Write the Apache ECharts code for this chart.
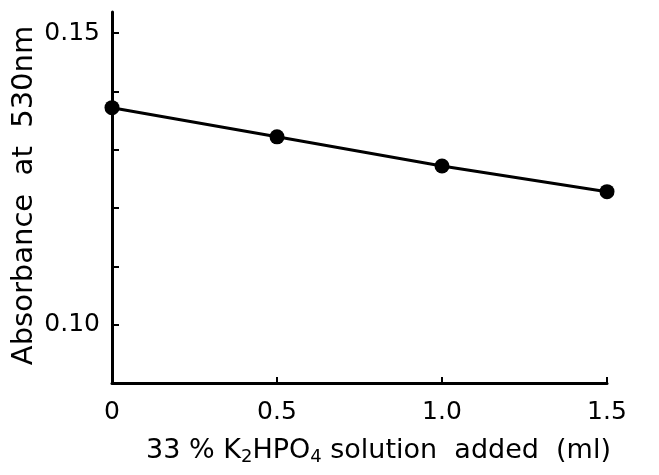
<!DOCTYPE html>
<html>
<head>
<meta charset="utf-8">
<script src="https://cdn.jsdelivr.net/npm/echarts@6/dist/echarts.min.js"></script>
<style>
  html, body { margin: 0; padding: 0; background: #fff; }
  #chart { width: 659px; height: 475px; }
</style>
</head>
<body>
<div id="chart"></div>
<script>
// K2HPO4 added (ml) vs absorbance at 530nm
const volumes = [0, 0.5, 1.0, 1.5];
const absorbance = [0.1372, 0.1322, 0.1272, 0.1228];
const xLabels = ["0", "0.5", "1.0", "1.5"];
const yTicks = [0.10, 0.11, 0.12, 0.13, 0.14, 0.15];
const yLabels = [0.10, 0.15];

const font = "DejaVu Sans";
const chart = echarts.init(document.getElementById("chart"));

chart.setOption({
  animation: false,
  backgroundColor: "#fff",
  grid: { left: 112, right: 52, top: 12, bottom: 92, outerBoundsMode: "none" },
  xAxis: {
    type: "value",
    min: 0,
    max: 1.5,
    interval: 0.5,
    name: "33 % K{sub|2}HPO{sub|4} solution  added  (ml)",
    nameLocation: "middle",
    nameGap: 52,
    nameTextStyle: {
      color: "#000",
      fontFamily: font,
      fontSize: 27,
      padding: [0, 0, 0, 38],
      rich: {
        sub: { fontSize: 18, fontFamily: font, color: "#000", padding: [13, 0, 0, 0] }
      }
    },
    axisLine: { onZero: false, lineStyle: { color: "#000", width: 3 } },
    axisTick: { inside: true, length: 6, lineStyle: { color: "#000", width: 2 } },
    axisLabel: {
      margin: 17,
      color: "#000",
      fontFamily: font,
      fontSize: 25,
      formatter: (v) => xLabels[volumes.indexOf(v)] ?? ""
    },
    splitLine: { show: false }
  },
  yAxis: {
    type: "value",
    min: 0.09,
    max: 0.1536,
    name: "Absorbance  at  530nm",
    nameLocation: "middle",
    nameMoveOverlap: false,
    nameGap: 73,
    nameTextStyle: {
      color: "#000",
      fontFamily: font,
      fontSize: 29,
      padding: [0, 0, 0, 4]
    },
    axisLine: { onZero: false, lineStyle: { color: "#000", width: 3 } },
    axisTick: {
      inside: true,
      length: 7,
      customValues: yTicks,
      lineStyle: { color: "#000", width: 2 }
    },
    axisLabel: {
      margin: 12,
      color: "#000",
      fontFamily: font,
      fontSize: 25,
      customValues: yLabels,
      formatter: (v) => v.toFixed(2)
    },
    splitLine: { show: false }
  },
  series: [
    {
      type: "line",
      data: volumes.map((v, i) => [v, absorbance[i]]),
      symbol: "circle",
      symbolSize: 15,
      itemStyle: { color: "#000" },
      lineStyle: { color: "#000", width: 3 }
    }
  ]
});
</script>
</body>
</html>
